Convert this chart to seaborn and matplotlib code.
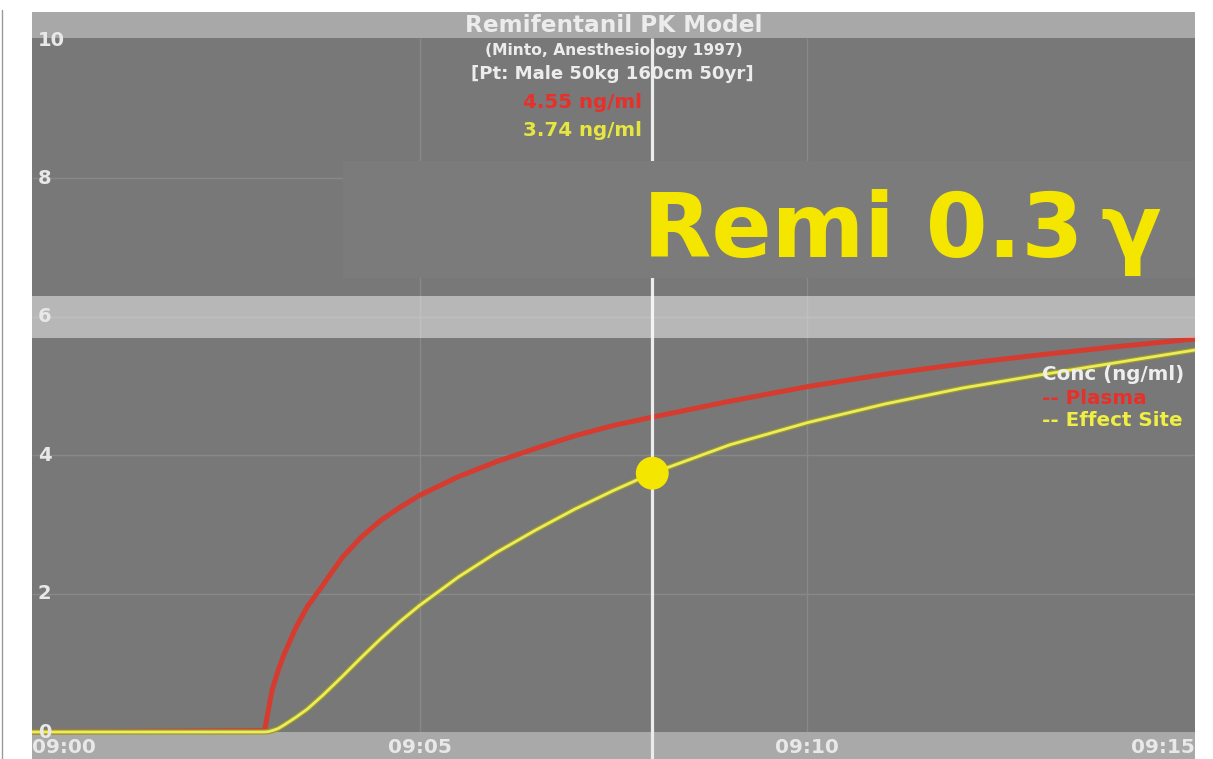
import numpy as np
import pandas as pd
import matplotlib
matplotlib.use("Agg")
import matplotlib.pyplot as plt
import matplotlib.patheffects as pe
import seaborn as sns

# ---------------- data ----------------
time_min = [0, 3.0, 3.05, 3.1, 3.175, 3.25, 3.4, 3.55, 3.75, 4.0, 4.25, 4.5, 4.75, 5.0,
            5.5, 6.0, 6.5, 7.0, 7.5, 8.0, 9.0, 10.0, 11.0, 12.0, 13.0, 14.0, 15.0]
plasma = [0, 0.02, 0.33, 0.62, 0.89, 1.12, 1.50, 1.81, 2.12, 2.52, 2.82, 3.06, 3.25, 3.42,
          3.69, 3.91, 4.10, 4.28, 4.43, 4.55, 4.78, 4.99, 5.17, 5.32, 5.45, 5.57, 5.68]
effect = [0, 0, 0.005, 0.02, 0.05, 0.10, 0.21, 0.33, 0.53, 0.80, 1.08, 1.35, 1.60, 1.83,
          2.24, 2.60, 2.92, 3.22, 3.49, 3.74, 4.15, 4.47, 4.74, 4.97, 5.16, 5.34, 5.52]
cursor_time = 8.0
cursor_plasma = 4.55
cursor_effect = 3.74
y_ticks = [0, 2, 4, 6, 8, 10]
x_ticks = [0, 5, 10, 15]
x_tick_labels = ["09:00", "09:05", "09:10", "09:15"]
title = "Remifentanil PK Model"
subtitle = "(Minto, Anesthesiology 1997)"
patient = "[Pt: Male 50kg 160cm 50yr]"
legend_title = "Conc (ng/ml)"
series_names = ["Plasma", "Effect Site"]
big_label = "Remi 0.3\u2009γ"

df = pd.DataFrame({
    "time": time_min * 2,
    "conc": plasma + effect,
    "series": [series_names[0]] * len(time_min) + [series_names[1]] * len(time_min),
})

# ---------------- style ----------------
sns.set_theme(style="dark")
plt.rcParams["font.family"] = ["DejaVu Sans"]

W, H = 1213, 759
BG = "#787878"
BAND = "#a8a8a8"
GRID = "#888888"
RED = "#d63b2f"
YEL = "#ecec5c"
DOT = "#f5e600"
TXT = "#e8e8e8"

fig = plt.figure(figsize=(W / 100, H / 100), dpi=100, facecolor="white")
ax_left, ax_right, ax_top_px = 32, 1195, 12
ax = fig.add_axes([ax_left / W, 0, (ax_right - ax_left) / W, (H - ax_top_px) / H])
ax.set_facecolor(BG)
for s in ax.spines.values():
    s.set_visible(False)

y0_px, ppu = 732, 69.2
ylo = -(H - y0_px) / ppu
yhi = (y0_px - ax_top_px) / ppu
ax.set_xlim(0, 15)
ax.set_ylim(ylo, yhi)
top_edge = 10.03

# grid drawn manually so the header/footer bands hide it
ax.grid(False)
ax.hlines([v for v in y_ticks if 0 < v < max(y_ticks)], 0, 15, color=GRID, lw=1.0, zorder=0.8)
ax.vlines([v for v in x_ticks if 0 < v < max(x_ticks)], 0, top_edge, color=GRID, lw=1.0, zorder=0.8)

# header and footer bands
ax.axhspan(top_edge, yhi, color=BAND, lw=0, zorder=1)
ax.axhspan(ylo, 0, color="#a9a9a9", lw=0, zorder=1)

# curves
sns.lineplot(data=df[df.series == series_names[0]], x="time", y="conc", color=RED,
             lw=3.6, ax=ax, legend=False, zorder=2.2)
sns.lineplot(data=df[df.series == series_names[1]], x="time", y="conc", color=YEL,
             lw=2.0, ax=ax, legend=False, zorder=2.4,
             path_effects=[pe.Stroke(linewidth=3.8, foreground="#9a9a2e"), pe.Normal()])
ax.set_xlabel("")
ax.set_ylabel("")

# cursor line
ax.vlines(cursor_time, ylo, top_edge, color="#ececec", lw=2.3, zorder=3)

# translucent band around 6
ax.axhspan((y0_px - 338) / ppu, (y0_px - 296) / ppu, color="white", alpha=0.47, lw=0, zorder=3.5)

# cursor dot
sns.scatterplot(x=[cursor_time], y=[cursor_effect], s=560, color=DOT, edgecolor="none",
                ax=ax, zorder=4, legend=False)

# overlay box for the big label
ax.fill_between([(343 - ax_left) / 77.5, 15], (y0_px - 278) / ppu, (y0_px - 161) / ppu,
                color="#7b7b7b", lw=0, zorder=4.5)

# ticks (inside the plot)
ax.set_yticks(y_ticks)
ax.set_yticklabels([str(v) for v in y_ticks])
ax.set_xticks(x_ticks)
ax.set_xticklabels(x_tick_labels)
ax.tick_params(axis="y", length=0, pad=-4.3, labelsize=14, labelcolor=TXT)
ax.tick_params(axis="x", length=0, pad=-8.3, labelsize=14.5, labelcolor=TXT)
for lbl in ax.get_yticklabels():
    lbl.set_ha("left")
    lbl.set_va("center")
    lbl.set_fontweight("bold")
xl = ax.get_xticklabels()
for i, lbl in enumerate(xl):
    lbl.set_fontweight("bold")
    lbl.set_va("center")
    lbl.set_ha("left" if i == 0 else ("right" if i == len(xl) - 1 else "center"))
ax.xaxis.set_zorder(8)
ax.yaxis.set_zorder(8)


def ftext(xp, yp, s, **kw):
    fig.text(xp / W, 1 - yp / H, s, fontweight="bold", **kw)


# titles
ftext(614, 26, title, ha="center", va="center", fontsize=16.7, color="#ececec", zorder=6)
ftext(614, 50, subtitle, ha="center", va="center", fontsize=11.2, color="#ececec", zorder=6)
ftext(612, 74, patient, ha="center", va="center", fontsize=13.1, color="#ececec", zorder=6)
ftext(582, 102, f"{cursor_plasma:.2f} ng/ml", ha="center", va="center", fontsize=14.3,
      color="#e8302a", zorder=6)
ftext(582, 131, f"{cursor_effect:.2f} ng/ml", ha="center", va="center", fontsize=14.3,
      color="#e6e640", zorder=6)

# legend texts
ftext(1042, 375, legend_title, ha="left", va="center", fontsize=14.3, color="#eeeeee", zorder=6)
ftext(1042, 398, "-- " + series_names[0], ha="left", va="center", fontsize=14.3,
      color="#e8302a", zorder=6)
ftext(1042, 420, "-- " + series_names[1], ha="left", va="center", fontsize=14.3,
      color="#eeee44", zorder=6)

# big label
fig.text(643 / W, 1 - 257 / H, big_label, ha="left", va="baseline", fontsize=64, fontweight="bold",
         color=DOT, zorder=7)

# thin left border line
fig.add_artist(plt.Line2D([1.5 / W, 1.5 / W], [0, 1 - 10 / H], color="#9a9a9a", lw=1))

fig.savefig("out.png", dpi=100, facecolor="white")
